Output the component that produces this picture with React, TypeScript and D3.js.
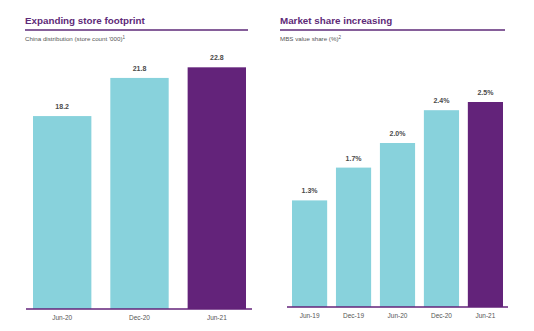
import React from "react";
import * as d3 from "d3";

const leftCats = ["Jun-20", "Dec-20", "Jun-21"];
const leftVals = [18.2, 21.8, 22.8];
const leftLabels = ["18.2", "21.8", "22.8"];

const rightCats = ["Jun-19", "Dec-19", "Jun-20", "Dec-20", "Jun-21"];
const rightVals = [1.3, 1.7, 2.0, 2.4, 2.5];
const rightLabels = ["1.3%", "1.7%", "2.0%", "2.4%", "2.5%"];

const TEAL = "#88d2dc";
const PURPLE = "#63237a";
const TITLE = "#5e2a78";

function Panel(props: {
  x0: number; x1: number; title: string; subtitle: string; sup: string;
  cats: string[]; vals: number[]; labels: string[];
  base: number; unit: number; padInner: number; barX0: number; barX1: number;
  axisX0: number; axisX1: number;
}) {
  const { cats, vals, labels } = props;
  const x = d3.scaleBand<string>().domain(cats).range([props.barX0, props.barX1]).paddingInner(props.padInner).paddingOuter(0);
  const y = d3.scaleLinear().domain([0, 1]).range([props.base, props.base - props.unit]);
  return (
    <g>
      <text x={props.x0} y={24} fontFamily="Liberation Sans, Arial, sans-serif" fontWeight="bold" fontSize={9.8} fill={TITLE}>{props.title}</text>
      <line x1={props.x0} x2={props.x1} y1={30} y2={30} stroke={TITLE} strokeWidth={1.5} />
      <text x={props.x0} y={41} fontFamily="Liberation Sans, Arial, sans-serif" fontSize={6.2} fill="#555">
        {props.subtitle}<tspan dy={-2} fontSize={4.5}>{props.sup}</tspan>
      </text>
      {cats.map((c, i) => (
        <g key={c}>
          <rect x={x(c)} y={y(vals[i])} width={x.bandwidth()} height={props.base - y(vals[i])} fill={i === cats.length - 1 ? PURPLE : TEAL} />
          <text x={(x(c) as number) + x.bandwidth() / 2} y={y(vals[i]) - 7} textAnchor="middle" fontFamily="Liberation Sans, Arial, sans-serif" fontWeight="bold" fontSize={7} fill="#4a4a4a">{labels[i]}</text>
          <text x={(x(c) as number) + x.bandwidth() / 2} y={props.base + 11} textAnchor="middle" fontFamily="Liberation Sans, Arial, sans-serif" fontSize={6.5} fill="#555">{c}</text>
        </g>
      ))}
      <line x1={props.axisX0} x2={props.axisX1} y1={props.base} y2={props.base} stroke={PURPLE} strokeWidth={1.5} />
    </g>
  );
}

export default function App() {
  return (
    <svg width={534} height={331} style={{ position: "absolute", left: 0, top: 0, background: "#fff" }}>
      <Panel x0={25} x1={248} title="Expanding store footprint" subtitle="China distribution (store count '000)" sup="1"
        cats={leftCats} vals={leftVals} labels={leftLabels} base={309} unit={10.6}
        padInner={0.245} barX0={33} barX1={246} axisX0={26} axisX1={252} />
      <Panel x0={280} x1={505} title="Market share increasing" subtitle="MBS value share (%)" sup="2"
        cats={rightCats} vals={rightVals} labels={rightLabels} base={307} unit={82}
        padInner={0.2} barX0={292} barX1={503} axisX0={287} axisX1={508} />
    </svg>
  );
}
